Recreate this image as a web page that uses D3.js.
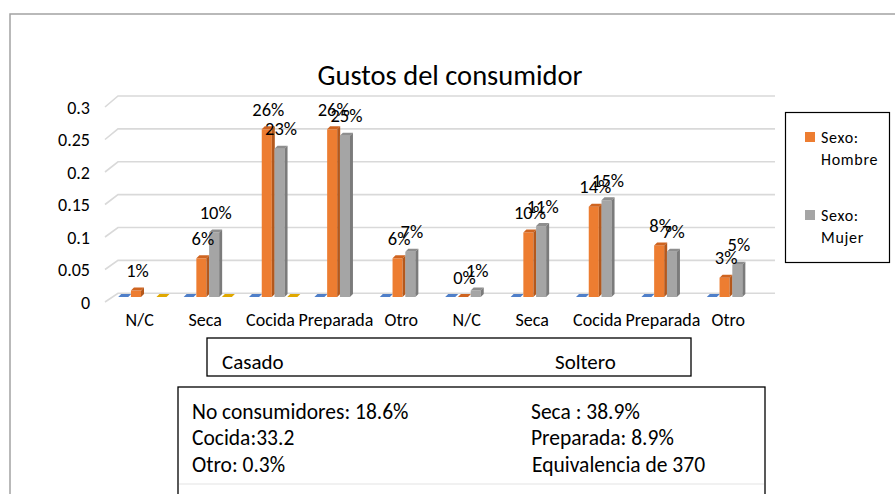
<!DOCTYPE html>
<html>
<head>
<meta charset="utf-8">
<script src="https://cdn.jsdelivr.net/npm/d3@7"></script>
<style>
  body { margin: 0; background: #fff; }
  svg { display: block; }
  text { font-family: Carlito, Lato, sans-serif; fill: #000; }
</style>
</head>
<body>
<svg id="chart" width="895" height="494"></svg>
<script>
// ---- data ----
const title = "Gustos del consumidor";
const categories = ["N/C", "Seca", "Cocida", "Preparada", "Otro", "N/C", "Seca", "Cocida", "Preparada", "Otro"];
const groups = ["Casado", "Soltero"];
const serie1 = [0, 0, 0, 0, 0, 0, 0, 0, 0, 0];
const hombre = [0.01, 0.06, 0.26, 0.26, 0.06, 0, 0.10, 0.14, 0.08, 0.03];
const mujer = [null, 0.10, 0.23, 0.25, 0.07, 0.01, 0.11, 0.15, 0.07, 0.05];
const serie4 = [0, 0, 0, null, null, null, null, null, null, null];
const legendNames = [["Sexo:", "Hombre"], ["Sexo:", "Mujer"]];
const yTicks = [0, 0.05, 0.1, 0.15, 0.2, 0.25, 0.3];
const notesLeft = ["No consumidores: 18.6%", "Cocida:33.2", "Otro: 0.3%"];
const notesRight = ["Seca : 38.9%", "Preparada: 8.9%", "Equivalencia de 370"];

// ---- series styling (front / top / side faces) ----
const series = [
  { values: serie1, front: "#4472C4", top: "#4f7fc9", side: "#2f5597", label: false },
  { values: hombre, front: "#ED7D31", top: "#cf6420", side: "#b4581c", label: true },
  { values: mujer,  front: "#A5A5A5", top: "#8e8e8e", side: "#7b7b7b", label: true },
  { values: serie4, front: "#FFC000", top: "#e0a800", side: "#b88a00", label: false }
];

const svg = d3.select("#chart");

// chart frame
svg.append("path")
  .attr("d", "M10,494 V14 H895")
  .attr("fill", "none").attr("stroke", "#a3a3a3").attr("stroke-width", 1.5);

// title
svg.append("text")
  .attr("x", 450).attr("y", 75)
  .attr("text-anchor", "middle").attr("dominant-baseline", "central")
  .style("font-size", "28.5px")
  .text(title);

// ---- scales ----
const x = d3.scaleBand().domain(d3.range(categories.length))
  .range([111, 765]).paddingInner(0.22).paddingOuter(0.11);
const xs = d3.scaleBand().domain(d3.range(series.length)).range([0, x.bandwidth()]);
const yBar = d3.scaleLinear().domain([0, 0.3]).range([297, 297 - 0.3 * 645]);
const yWall = d3.scaleLinear().domain([0, 0.3]).range([293.3, 96]);
const yFront = d3.scaleLinear().domain([0, 0.3]).range([302, 107]);

const dx = 3, dy = 3;           // depth offset of the 3D columns
const wallLeft = 118, wallRight = 775, floorLeft = 105;

// back-wall gridlines with the slanted floor edge
svg.append("g").selectAll("path").data(yTicks).join("path")
  .attr("d", v => `M${floorLeft},${yFront(v)} L${wallLeft},${yWall(v)} L${wallRight},${yWall(v)}`)
  .attr("fill", "none").attr("stroke", "#d9d9d9").attr("stroke-width", 1.6);

// y axis labels
const yAxis = svg.append("g")
  .attr("transform", `translate(${floorLeft - 15},0)`)
  .call(d3.axisLeft(yFront).tickValues(yTicks).tickSize(0).tickPadding(0).tickFormat(d => String(d)));
yAxis.select(".domain").remove();
yAxis.selectAll("text").style("font-size", "18px").attr("font-family", null)
  .attr("dy", null).attr("dominant-baseline", "central");

// x axis labels
const xAxis = svg.append("g")
  .attr("transform", "translate(-4,310)")
  .call(d3.axisBottom(x).tickSize(0).tickPadding(0).tickFormat(i => categories[i]));
xAxis.select(".domain").remove();
xAxis.selectAll("text").style("font-size", "18px").attr("font-family", null)
  .attr("dy", null).attr("y", 10).attr("dominant-baseline", "central");

// ---- 3D columns ----
const bars = [];
categories.forEach((c, i) => {
  series.forEach((s, k) => {
    const v = s.values[i];
    if (v === null || v === undefined) return;
    const x0 = x(i) + xs(k);
    const w = xs.bandwidth() - dx + 0.3;
    bars.push({ i, k, v, x0, x1: x0 + w, s });
  });
});

const barG = svg.append("g").selectAll("g").data(bars).join("g");
barG.append("rect")
  .attr("x", d => d.x0).attr("y", d => yBar(d.v))
  .attr("width", d => d.x1 - d.x0).attr("height", d => yBar(0) - yBar(d.v))
  .attr("fill", d => d.s.front);
barG.append("path")
  .attr("d", d => {
    const t = yBar(d.v);
    return `M${d.x0},${t} L${d.x0 + dx},${t - dy} L${d.x1 + dx},${t - dy} L${d.x1},${t} Z`;
  })
  .attr("fill", d => d.s.top);
barG.append("path")
  .attr("d", d => {
    const t = yBar(d.v), b = yBar(0);
    return `M${d.x1},${t} L${d.x1 + dx},${t - dy} L${d.x1 + dx},${b - dy} L${d.x1},${b} Z`;
  })
  .attr("fill", d => d.s.side);

// value labels
const fmt = d3.format(".0%");
svg.append("g").selectAll("text").data(bars.filter(d => d.s.label)).join("text")
  .attr("x", d => (d.x0 + d.x1) / 2 + 1.5)
  .attr("y", d => yBar(d.v) - 20)
  .attr("text-anchor", "middle").attr("dominant-baseline", "central")
  .style("font-size", "18.5px")
  .text(d => fmt(d.v));

// ---- legend ----
const legend = svg.append("g");
legend.append("rect")
  .attr("x", 785.5).attr("y", 112.5).attr("width", 104).attr("height", 150)
  .attr("fill", "#fff").attr("stroke", "#000").attr("stroke-width", 1.2);
const legendItems = [
  { names: legendNames[0], color: series[1].front, y: 132 },
  { names: legendNames[1], color: series[2].front, y: 210 }
];
legendItems.forEach(it => {
  legend.append("rect").attr("x", 805).attr("y", it.y).attr("width", 10).attr("height", 10).attr("fill", it.color);
  it.names.forEach((n, j) => {
    legend.append("text")
      .attr("x", 821).attr("y", it.y + 5 + j * 22)
      .attr("dominant-baseline", "central")
      .style("font-size", "16px").style("letter-spacing", "0.7px")
      .text(n);
  });
});

// ---- group box ----
svg.append("rect")
  .attr("x", 207).attr("y", 338).attr("width", 484).attr("height", 38)
  .attr("fill", "none").attr("stroke", "#000").attr("stroke-width", 1.3);
const groupX = [222, 555];
svg.append("g").selectAll("text").data(groups).join("text")
  .attr("x", (d, j) => groupX[j]).attr("y", 362)
  .attr("dominant-baseline", "central")
  .style("font-size", "21px")
  .text(d => d);

// ---- notes box ----
svg.append("rect")
  .attr("x", 178).attr("y", 387).attr("width", 587).attr("height", 120)
  .attr("fill", "none").attr("stroke", "#000").attr("stroke-width", 1.3);
svg.append("line")
  .attr("x1", 179).attr("x2", 764).attr("y1", 484).attr("y2", 484)
  .attr("stroke", "#e3e3e3").attr("stroke-width", 1.2);
const noteY = [412, 438, 465];
svg.append("g").selectAll("text").data(notesLeft).join("text")
  .attr("x", 192).attr("y", (d, j) => noteY[j])
  .attr("dominant-baseline", "central").style("font-size", "21.5px")
  .text(d => d);
svg.append("g").selectAll("text").data(notesRight).join("text")
  .attr("x", (d, j) => j === 2 ? 532 : 531).attr("y", (d, j) => noteY[j])
  .attr("dominant-baseline", "central").style("font-size", "21.5px")
  .text(d => d);
</script>
</body>
</html>
